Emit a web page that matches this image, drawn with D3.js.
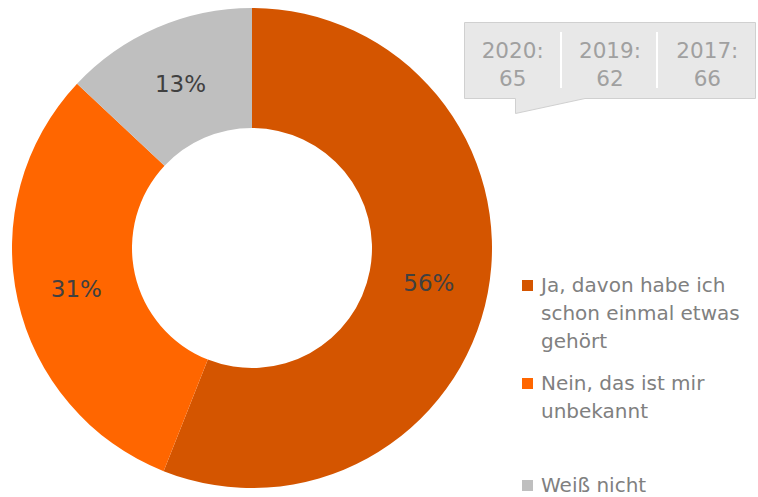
<!DOCTYPE html>
<html><head><meta charset="utf-8">
<script src="https://cdn.jsdelivr.net/npm/d3@7"></script>
<style>html,body{margin:0;padding:0;background:#fff;}</style>
</head><body>
<svg id="chart" width="758" height="497"></svg>
<script>
const categories = ["Ja, davon habe ich schon einmal etwas gehört", "Nein, das ist mir unbekannt", "Weiß nicht"];
const values = [56, 31, 13];
const colors = ["#D45500", "#FF6600", "#BFBFBF"];
const legendLines = [["Ja, davon habe ich", "schon einmal etwas", "gehört"], ["Nein, das ist mir", "unbekannt"], ["Weiß nicht"]];
const calloutYears = ["2020:", "2019:", "2017:"];
const calloutValues = [65, 62, 66];

const font = "'DejaVu Sans', Verdana, sans-serif";
const svg = d3.select("#chart");
const cx = 252, cy = 248, rOut = 240, rIn = 120;

const pie = d3.pie().sort(null).value(d => d)(values);
const arc = d3.arc().innerRadius(rIn).outerRadius(rOut);
const g = svg.append("g").attr("transform", `translate(${cx},${cy})`);
g.selectAll("path").data(pie).join("path")
  .attr("d", arc).attr("fill", (d, i) => colors[i]);

const labelArc = d3.arc().innerRadius((rIn + rOut) / 2).outerRadius((rIn + rOut) / 2);
g.selectAll("text").data(pie).join("text")
  .attr("transform", d => { const c = labelArc.centroid(d); return `translate(${c[0]},${c[1] + 1})`; })
  .attr("text-anchor", "middle").attr("dy", "0.36em")
  .attr("font-family", font).attr("font-size", 23).attr("fill", "#404040")
  .text(d => d.data + "%");

// legend
const legendY = [285, 383, 485];
const lg = svg.append("g");
categories.forEach((c, i) => {
  lg.append("rect").attr("x", 522).attr("y", legendY[i] - 5).attr("width", 11).attr("height", 11).attr("fill", colors[i]);
  legendLines[i].forEach((line, j) => {
    lg.append("text").attr("x", 541).attr("y", legendY[i] + j * 28).attr("dy", "0.36em")
      .attr("font-family", font).attr("font-size", 20).attr("fill", "#808080").text(line);
  });
});

// callout
const cg = svg.append("g");
cg.append("path")
  .attr("d", "M464.5,22.5 H755.5 V98.5 H585 L515.5,113.5 V98.5 H464.5 Z")
  .attr("fill", "#E8E8E8").attr("stroke", "#D0D0D0").attr("stroke-width", 1);
const colX = d3.scaleBand().domain(calloutYears).range([464, 756]);
[561, 657].forEach(x => cg.append("line").attr("x1", x).attr("x2", x).attr("y1", 32).attr("y2", 88).attr("stroke", "#fff").attr("stroke-width", 2));
calloutYears.forEach((y, i) => {
  const x = colX(y) + colX.bandwidth() / 2;
  cg.append("text").attr("x", x).attr("y", 58).attr("text-anchor", "middle")
    .attr("font-family", font).attr("font-size", 21.5).attr("fill", "#A0A0A0").text(y);
  cg.append("text").attr("x", x).attr("y", 86).attr("text-anchor", "middle")
    .attr("font-family", font).attr("font-size", 21.5).attr("fill", "#A0A0A0").text(calloutValues[i]);
});
</script>
</body></html>
